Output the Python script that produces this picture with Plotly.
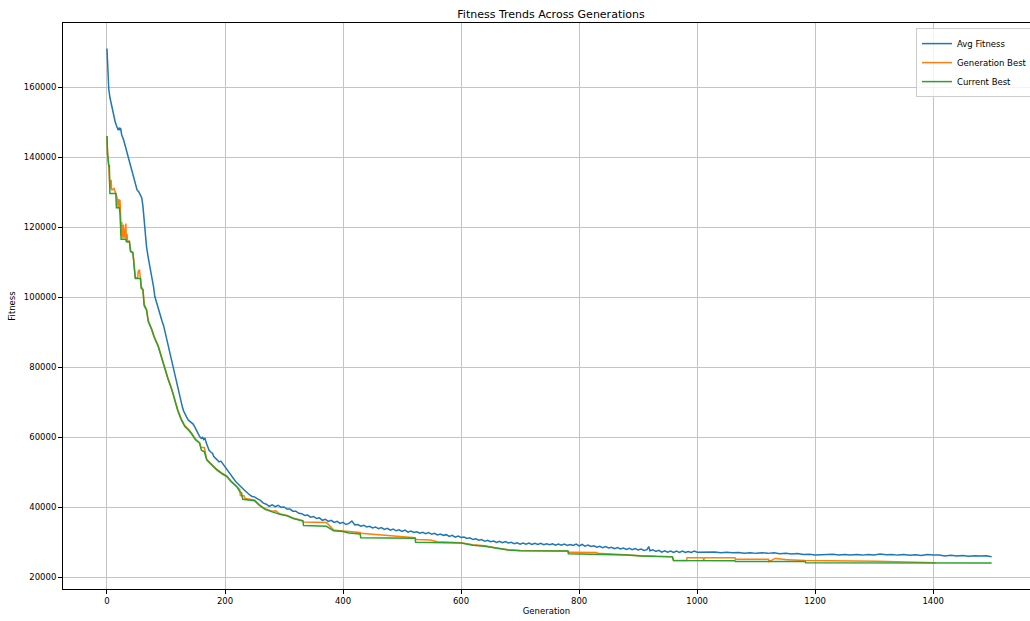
import plotly.graph_objects as go

# ---------------- data ----------------
avg_gen = [0, 1, 2, 3, 5, 8, 10, 12, 14, 16, 19, 21, 22, 23, 25, 28, 30, 32, 34, 36, 38, 40, 43, 46, 48,
           51, 54, 57, 59, 61, 62, 63, 65, 67, 70, 73, 76, 79, 81, 84, 87, 90, 93, 96, 99, 102, 104, 107,
           109, 111, 114, 117, 119, 121, 123, 125, 128, 130, 132, 135, 138, 141, 143, 146, 149, 152, 155,
           157, 160, 162, 164, 166, 168, 170, 173, 176, 179, 181, 184, 187, 190, 193, 196, 199, 202, 205,
           208, 210, 212, 215, 218, 221, 224, 227, 230, 233, 236, 240, 243, 246,
           250, 255, 260, 265, 270, 275, 280, 285, 290, 295, 300, 305, 310, 315, 320, 325, 330, 335, 340,
           345, 350, 355, 360, 365, 370, 375, 380, 385, 390, 395, 400, 405, 410, 415, 420, 425, 430, 435,
           440, 445, 450, 455, 460, 465, 470, 475, 480, 485, 490, 495, 500, 505, 510, 515, 520, 525, 530,
           535, 540, 545, 550, 555, 560, 565, 570, 575, 580, 585, 590, 595, 600, 605, 610, 615, 620, 625,
           630, 635, 640, 645, 650, 655, 660, 665, 670, 675, 680, 685, 690, 695, 700, 705, 710, 715, 720,
           725, 730, 735, 740, 745, 750, 755, 760, 765, 770, 775, 780, 785, 790, 795, 800, 805, 810, 815,
           820, 825, 830, 835, 840, 845, 850, 855, 860, 865, 870, 875, 880, 885, 890, 895, 900, 905, 910,
           915, 918, 920, 925, 930, 935, 940, 945, 950, 955, 960, 965, 970, 975, 980, 985, 990, 995, 1000,
           1010, 1020, 1030, 1040, 1050, 1060, 1070, 1080, 1090, 1100, 1110, 1120, 1130, 1140, 1150, 1160,
           1170, 1180, 1190, 1200, 1210, 1220, 1230, 1240, 1250, 1260, 1270, 1280, 1290, 1300, 1310, 1320,
           1330, 1340, 1350, 1360, 1370, 1380, 1390, 1400, 1410, 1420, 1430, 1440, 1450, 1460, 1470, 1480,
           1490, 1499]
avg_fitness = [171000, 165500, 161500, 159500, 157000, 154500, 153000, 151500, 150000, 149000, 147700,
               148400, 147600, 148300, 146300, 145000, 143500, 142000, 141300, 140000, 138800, 137600,
               135300, 133500, 132200, 130600, 130000, 129200, 128300, 125800, 123500, 120900, 117200,
               114400, 111200, 108700, 105600, 102800, 100200, 98300, 96400, 94600, 93300, 91800, 89600,
               87300, 85800, 83400, 81700, 80000, 78300, 76300, 74900, 73400, 71700, 70300, 68400, 67400,
               66500, 65700, 64800, 64400, 64100, 63700, 62800, 61800, 61000, 60100, 59600, 59900, 59300,
               59700, 58400, 57300, 56200, 55700, 55300, 54400, 53900, 53200, 52900, 53100, 52400, 51800,
               50900, 50300, 49600, 49100, 48700, 47800, 47300, 46800, 46200, 45700, 45300, 44800, 44300,
               43700, 43300, 43000,
               42900, 42300, 41900, 41100, 40800, 40200, 40600, 40100, 40500, 39900, 40000, 39400, 39400,
               38800, 38800, 38200, 38100, 37600, 37700, 37100, 37300, 36700, 36900, 36200, 36500, 35900,
               36200, 35600, 35900, 35300, 35600, 35000, 35300, 36000, 34900, 35000, 34500, 34800, 34300,
               34500, 34000, 34300, 33800, 34100, 33600, 33900, 33400, 33700, 33200, 33500, 33000, 33400,
               32800, 33100, 32700, 32900, 32500, 32800, 32400, 32700, 32200, 32500, 32000, 32300, 31900,
               32100, 31600, 31900, 31400, 31700, 31300, 31400, 31000, 31200, 30700, 30900, 30500, 30700,
               30200, 30500, 30100, 30300, 29900, 30200, 29800, 30100, 29700, 29900, 29500, 29800, 29400,
               29700, 29400, 29700, 29300, 29600, 29300, 29600, 29200, 29500, 29200, 29500, 29100, 29400,
               29100, 29400, 29000, 29300, 29000, 29400, 28900, 29300, 28800, 29100, 28700, 28900, 28500,
               28800, 28400, 28700, 28300, 28500, 28100, 28400, 28000, 28300, 27900, 28200, 27800, 28100,
               27700, 28000, 27600, 27800, 28700, 27500, 27800, 27300, 27600, 27100, 27500, 27100, 27400,
               27000, 27400, 27000, 27400, 27000, 27300, 27000, 27400, 27100,
               27150, 27000, 27150, 26900, 27050, 26900, 27000, 26800, 26950, 26750, 26900, 26750, 26950,
               26650, 26800, 26600, 26700, 26400, 26500, 26300, 26400, 26300, 26500, 26300, 26400, 26250,
               26400, 26250, 26450, 26300, 26550, 26350, 26450, 26250, 26400, 26200, 26350, 26150, 26450,
               26300, 26300, 26000, 26200, 26000, 26150, 25950, 26100, 26000, 26050, 25800]

gen_best_gen = [0, 1, 3, 4, 5, 7, 8, 12, 15, 17, 19, 20, 21, 22, 23, 24, 25, 26, 27, 28, 29, 30, 31, 32,
                33, 34, 35, 38, 40, 44, 48, 52, 53, 55, 56, 57, 58, 61, 63, 67, 70, 76, 80, 87, 92, 97,
                103, 110, 115, 120, 126, 132, 138, 143, 150, 157, 159, 160, 165, 166, 169, 175, 180,
                186, 195, 203, 210, 215, 220, 225, 226, 232, 234, 250, 258, 268, 275, 280, 286, 293,
                305, 316, 332, 333, 372, 384, 395, 405, 406, 429, 430, 480, 522, 524, 548, 560, 600,
                620, 640, 660, 680, 700, 781, 782, 784, 830, 831, 862, 880, 905, 930, 958, 960, 982,
                983, 1010, 1011, 1013, 1064, 1065, 1121, 1122, 1132, 1133, 1153, 1154, 1183, 1184,
                1304, 1305, 1403, 1404, 1499]
gen_best = [146000, 141000, 137500, 134500, 131000, 133500, 130500, 131000, 129800, 128500, 125600,
            128000, 125800, 127800, 124000, 117500, 121500, 118000, 116800, 120600, 117000, 119500,
            116800, 121000, 116000, 118000, 115800, 116000, 113200, 112800, 105500, 105500, 107300,
            107800, 105500, 105400, 103000, 102200, 98000, 96500, 93200, 90800, 88700, 86000, 83000,
            80200, 77000, 73600, 70700, 67700, 65100, 63200, 62200, 61200, 59400, 58400, 57200, 57000,
            57000, 55900, 53600, 52500, 51700, 50800, 49700, 48900, 47500, 46600, 46000, 45000, 43300,
            43200, 42400, 42000, 40700, 39500, 39100, 38800, 38900, 38000, 37600, 36800, 36100, 35700,
            35600, 33400, 33200, 33100, 32900, 32700, 32500, 31900, 31200, 30700, 30600, 30100, 29800,
            29200, 28900, 28300, 27800, 27600, 27400, 27000, 27100, 27000, 26800, 26500, 26400, 26100,
            25900, 25800, 24700, 24700, 25500, 25500, 24900, 25500, 25500, 25100, 25100, 24400, 25300,
            25300, 24950, 24950, 24700, 24700, 24500, 24500, 24100, 24050]

cur_best_gen = [0, 1, 3, 4, 5, 15, 16, 21, 22, 24, 32, 33, 38, 40, 44, 48, 57, 58, 61, 63, 67, 70, 76,
                80, 87, 92, 97, 103, 110, 115, 120, 126, 132, 138, 143, 150, 157, 160, 165, 169, 175,
                180, 186, 195, 203, 210, 215, 220, 225, 228, 230, 250, 258, 268, 280, 293, 305, 316,
                332, 333, 372, 384, 400, 410, 429, 430, 522, 523, 600, 620, 640, 660, 680, 700, 781,
                782, 862, 880, 905, 930, 958, 960, 1064, 1065, 1183, 1184, 1304, 1305, 1499]
cur_best = [146000, 141000, 137500, 137500, 129600, 129600, 125500, 125500, 124000, 116500, 116500,
            115800, 115800, 113000, 112500, 105300, 105300, 102500, 102000, 97500, 96300, 93000, 90600,
            88500, 85800, 82800, 80000, 76800, 73400, 70500, 67500, 64900, 63000, 62000, 61000, 59200,
            58200, 56200, 55800, 53500, 52400, 51500, 50600, 49500, 48700, 47300, 46400, 45800, 44400,
            44000, 42200, 41800, 40500, 39300, 38600, 37900, 37500, 36700, 36000, 34700, 34500, 33200,
            33000, 32600, 32300, 31200, 31100, 29900, 29700, 29100, 28800, 28200, 27700, 27500, 27400,
            26650, 26400, 26300, 26000, 25800, 25750, 24700, 24650, 24400, 24400, 24100, 24100, 24000,
            24000]

x_ticks = [0, 200, 400, 600, 800, 1000, 1200, 1400]
y_ticks = [20000, 40000, 60000, 80000, 100000, 120000, 140000, 160000]

# ---------------- figure ----------------
FONT = "DejaVu Sans"
fig = go.Figure()
fig.add_trace(go.Scatter(x=avg_gen, y=avg_fitness, mode="lines", name="Avg Fitness",
                         line=dict(color="#1f77b4", width=1.5)))
fig.add_trace(go.Scatter(x=gen_best_gen, y=gen_best, mode="lines", name="Generation Best",
                         line=dict(color="#ff7f0e", width=1.5)))
fig.add_trace(go.Scatter(x=cur_best_gen, y=cur_best, mode="lines", name="Current Best",
                         line=dict(color="#2ca02c", width=1.5)))

fig.update_layout(
    width=1030, height=621,
    margin=dict(l=63, r=0, t=23, b=32, autoexpand=False),
    paper_bgcolor="white", plot_bgcolor="white",
    font=dict(family=FONT, size=8.5, color="black"),
    title=dict(text="Fitness Trends Across Generations", x=551 / 1030, xref="container",
               xanchor="center", y=1 - 14 / 621, yref="container", yanchor="middle",
               font=dict(family=FONT, size=11, color="black")),
    showlegend=True,
    legend=dict(x=(916 - 63) / 967, y=0.991, xanchor="left", yanchor="top",
                bgcolor="rgba(255,255,255,0.8)", bordercolor="#cccccc", borderwidth=1,
                font=dict(family=FONT, size=8.5, color="black"), itemwidth=30,
                tracegroupgap=0),
)
fig.update_xaxes(
    range=[-74.5, 1564], tickvals=x_ticks, ticktext=[str(v) for v in x_ticks],
    showgrid=True, gridcolor="#c4c4c4", gridwidth=1, zeroline=False,
    showline=True, linecolor="black", linewidth=1, mirror=True,
    ticks="outside", ticklen=4, tickcolor="black", tickwidth=1,
    title=dict(text="Generation", standoff=2, font=dict(family=FONT, size=8.5)),
    automargin=False,
)
fig.update_yaxes(
    range=[16571, 178286], tickvals=y_ticks, ticktext=[str(v) for v in y_ticks],
    showgrid=True, gridcolor="#c4c4c4", gridwidth=1, zeroline=False,
    showline=True, linecolor="black", linewidth=1,
    ticks="outside", ticklen=4, tickcolor="black", tickwidth=1,
    title=dict(text="Fitness", standoff=6, font=dict(family=FONT, size=8.5)),
    automargin=False,
)

# remove the default 8px page margin so the 1030x621 figure fills the window exactly
fig.write_html("out.html", config={"displayModeBar": False},
               post_script="document.body.style.margin='0';document.body.style.overflow='hidden';")
